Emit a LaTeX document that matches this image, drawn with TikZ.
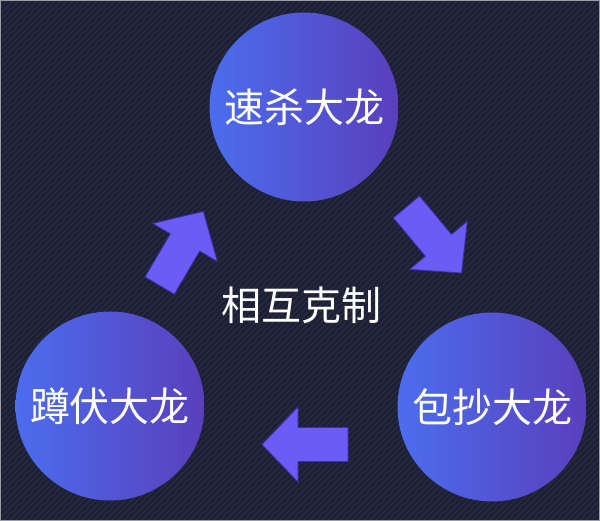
\documentclass[tikz,border=0pt]{standalone}
\usepackage{fontspec}
\newfontfamily\cjk{Noto Sans CJK SC}
\definecolor{bgnavy}{HTML}{1C1F33}
\definecolor{stripecol}{HTML}{252A40}
\definecolor{circleft}{HTML}{4B6DEE}
\definecolor{circright}{HTML}{5A3FBC}
\definecolor{arrowfill}{HTML}{6B5CF6}
\definecolor{arrowedge}{HTML}{3B30A8}
\definecolor{framecol}{HTML}{9A9CA6}
\tikzset{
  dragon/.style={circle, minimum size=189pt, inner sep=0pt,
    left color=circleft, right color=circright,
    text=white, font=\cjk\fontsize{40}{44}\selectfont},
  centrelabel/.style={text=white, font=\cjk\fontsize{40}{44}\selectfont, inner sep=0pt},
  stripe/.style={stripecol, line width=1.6pt},
  blockarrow/.pic={
    \fill[arrowfill, draw=arrowedge, line width=0.8pt, line join=miter]
      (-43,-17) -- (7,-17) -- (7,-37.5) -- (43,0) -- (7,37.5) -- (7,17) -- (-43,17) -- cycle;
  }
}
\begin{document}
\begin{tikzpicture}[x=1pt,y=1pt]
  \useasboundingbox (0,0) rectangle (600,521);
  \fill[bgnavy] (0,0) rectangle (600,521);
  \begin{scope}
    \clip (0,0) rectangle (600,521);
    \foreach \i in {-525,-519,...,600} {
      \draw[stripe] (\i,0) -- (\i+521,521);
    }
  \end{scope}
  \draw[framecol, line width=1.2pt] (0.6,0.6) rectangle (599.4,520.4);

  \node[dragon] (top) at (304,414) {速杀大龙};
  \node[dragon] (left) at (110,115) {蹲伏大龙};
  \node[dragon] (right) at (492,114) {包抄大龙};
  \node[centrelabel] (centre) at (301,216) {相互克制};

  \pic[rotate=59.5] (arrowup) at (181.5,272.5) {blockarrow};
  \pic[rotate=-50.2] (arrowdown) at (434,281) {blockarrow};
  \pic[rotate=180] (arrowleft) at (305,76.5) {blockarrow};
\end{tikzpicture}
\end{document}
